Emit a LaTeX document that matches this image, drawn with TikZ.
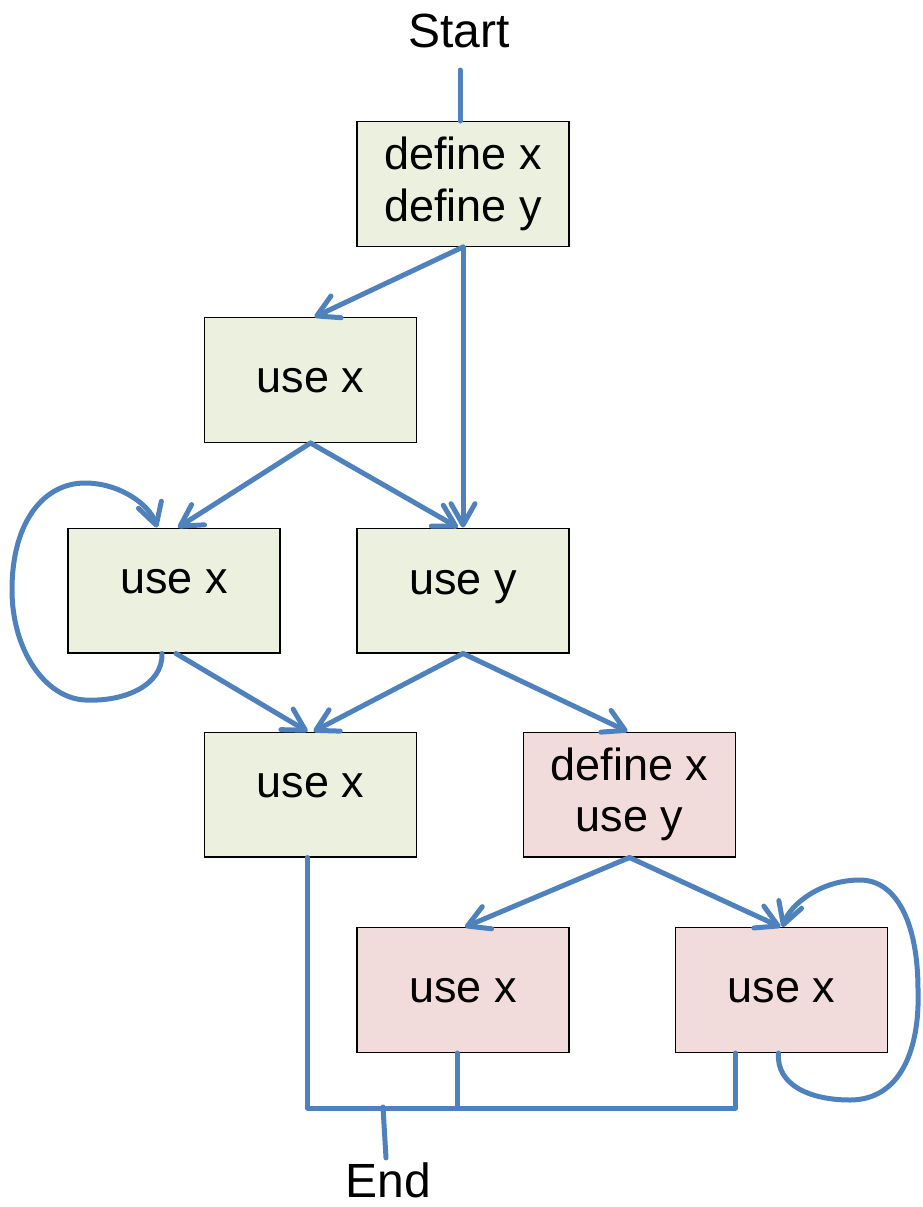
\documentclass[tikz,border=0pt]{standalone}
\usepackage{fontspec}
\setmainfont{Liberation Sans}
\usetikzlibrary{arrows.meta,calc}
\definecolor{flowblue}{RGB}{79,129,189}
\definecolor{livefill}{RGB}{235,240,223}
\definecolor{killfill}{RGB}{242,220,219}
\begin{document}
\begin{tikzpicture}[x=0.75pt,y=-0.75pt,
  block/.style={draw=black, line width=1.1pt, minimum width=159pt,
    minimum height=93.4pt, inner sep=0pt, align=center,
    font=\fontsize{33.75}{38.5}\selectfont},
  live/.style={block, fill=livefill},
  kill/.style={block, fill=killfill},
  % single-line text; the argument sets how far the baseline sits below centre
  oneline/.style={text height=10.1pt+#1, text depth=10.1pt},
  oneline/.default=0pt,
  term/.style={font=\fontsize{36}{42}\selectfont, anchor=base, inner sep=3pt},
  flow/.style={draw=flowblue, line width=3.75pt, line cap=round, line join=round},
  arr/.style={flow, -{Straight Barb[length=16pt,width=18pt,round]}}]
\useasboundingbox (0,0) rectangle (922,1207);

% terminals
\node[term] (start) at (459,47) {Start};
\node[term] (end) at (388,1197) {End};

% basic blocks
\node[live] (A) at (463,184) {define x\\define y};
\node[live,oneline=18pt] (B) at (310.5,380) {use x};
\node[live,oneline=4.5pt] (C) at (174,590.5) {use x};
\node[live,oneline=6pt] (D) at (463,590.5) {use y};
\node[live,oneline=4.5pt] (E) at (310.5,794.5) {use x};
\node[kill] (F) at (629.5,794.5) {define x\\use y};
\node[kill,oneline=18pt] (G) at (463,990) {use x};
\node[kill,oneline=18pt] (H) at (781.5,990) {use x};

% entry
\coordinate (s0) at (460,70);
\draw[flow] (s0) -- (s0 |- A.north);

% control-flow edges
\draw[arr] (A.south) -- ($(B.north)+(4,0)$);
\draw[arr] (A.south) -- (D.north);
\draw[arr] (B.south) -- ($(C.north)+(4,0)$);
\draw[arr] (B.south) -- ($(D.north)+(-5,0)$);
\draw[arr] ($(C.south)+(2,0)$) -- ($(E.north)+(-3,0)$);
\draw[arr] (D.south) -- ($(E.north)+(3,0)$);
\draw[arr] (D.south) -- ($(F.north)+(-2,0)$);
\draw[arr] (F.south) -- ($(G.north)+(2,0)$);
\draw[arr] (F.south) -- ($(H.north)+(-1,0)$);

% self loops
\draw[arr] ($(C.south)+(-12,0)$) .. controls (163,685) and (125,702) .. (85,700)
  .. controls (45,698) and (12,650) .. (12,590)
  .. controls (12,520) and (45,483) .. (85,483)
  .. controls (120,483) and (150,505) .. ($(C.north)+(-17,0)$);
\draw[arr] ($(H.south)+(-3,0)$) .. controls (776,1085) and (810,1100) .. (850,1100)
  .. controls (900,1100) and (920,1050) .. (918,990)
  .. controls (918,920) and (895,880) .. (860,880)
  .. controls (820,880) and (790,905) .. ($(H.north)+(1,0)$);

% exits joined to End
\draw[flow] ($(E.south)+(-3,0)$) |- ($(H.south)+(-46,55)$) -- ($(H.south)+(-46,0)$);
\draw[flow] ($(G.south)+(-6,0)$) -- ++(0,55);
\coordinate (j) at (383,1107);
\draw[flow] (j) -- ($(end.north)+(-2,0)$);
\end{tikzpicture}
\end{document}
